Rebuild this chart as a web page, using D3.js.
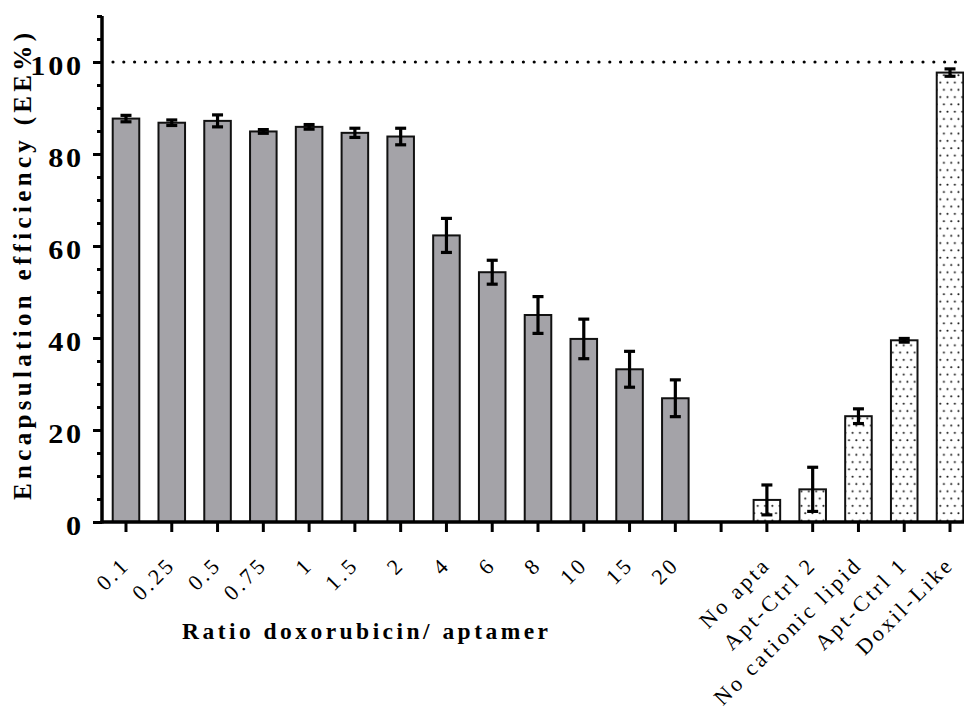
<!DOCTYPE html>
<html>
<head>
<meta charset="utf-8">
<script src="https://cdn.jsdelivr.net/npm/d3@7"></script>
<style>
  html, body { margin: 0; padding: 0; background: #fff; }
  svg { display: block; }
  svg text { font-family: "Liberation Serif", "Times New Roman", serif; fill: #000; }
</style>
</head>
<body>
<svg id="chart" width="964" height="715"></svg>
<script>
// ---- data ----
const ratioLabels   = ["0.1", "0.25", "0.5", "0.75", "1", "1.5", "2", "4", "6", "8", "10", "15", "20"];
const ratioValues   = [87.7, 86.8, 87.2, 84.9, 85.9, 84.6, 83.8, 62.3, 54.3, 45.0, 39.8, 33.2, 26.9];
const ratioErrors   = [0.7, 0.6, 1.3, 0.4, 0.5, 1.0, 1.8, 3.7, 2.6, 4.0, 4.3, 3.9, 4.0];
const gapLabel      = " ";
const controlLabels = ["No apta", "Apt-Ctrl 2", "No cationic lipid", "Apt-Ctrl 1", "Doxil-Like"];
const controlValues = [4.8, 7.1, 23.0, 39.5, 97.7];
const controlErrors = [3.25, 4.8, 1.6, 0.4, 0.8];
const yMajorTicks   = [0, 20, 40, 60, 80, 100];
const referenceLine = 100;
const yTitle = "Encapsulation efficiency (EE%)";
const xTitle = "Ratio doxorubicin/ aptamer";

// ---- build table ----
const rows = [];
ratioLabels.forEach((c, i) => rows.push({cat: c, v: ratioValues[i], e: ratioErrors[i], kind: "ratio"}));
controlLabels.forEach((c, i) => rows.push({cat: c, v: controlValues[i], e: controlErrors[i], kind: "control"}));
const domain = [...ratioLabels, gapLabel, ...controlLabels];

const svg = d3.select("#chart");
const FONT = '"Liberation Serif", "Times New Roman", serif';

// defs: dotted pattern
const defs = svg.append("defs");
const pat = defs.append("pattern")
  .attr("id", "dots").attr("patternUnits", "userSpaceOnUse")
  .attr("width", 7.3).attr("height", 14.6);
pat.append("rect").attr("width", 7.3).attr("height", 14.6).attr("fill", "#fff");
pat.append("circle").attr("cx", 2.2).attr("cy", 2.2).attr("r", 1).attr("fill", "#111");
pat.append("circle").attr("cx", 5.85).attr("cy", 9.5).attr("r", 1).attr("fill", "#111");

// scales
const x = d3.scaleBand().domain(domain).range([103.1, 972.9]).paddingInner(0.42).paddingOuter(0.21);
const y = d3.scaleLinear().domain([0, 110]).range([522, 16]);

// bars
svg.append("g").selectAll("rect").data(rows).join("rect")
  .attr("x", d => x(d.cat))
  .attr("y", d => y(d.v))
  .attr("width", x.bandwidth())
  .attr("height", d => y(0) - y(d.v))
  .attr("fill", d => d.kind === "ratio" ? "#a4a3a8" : "url(#dots)")
  .attr("stroke", "#111")
  .attr("stroke-width", 2);

// reference dotted line
svg.append("line")
  .attr("x1", 113).attr("x2", 964)
  .attr("y1", y(referenceLine)).attr("y2", y(referenceLine))
  .attr("stroke", "#000").attr("stroke-width", 3.2)
  .attr("stroke-linecap", "round").attr("stroke-dasharray", "0 10.8");

// error bars
const eb = svg.append("g").attr("stroke", "#000").attr("stroke-width", 3.2);
rows.forEach(d => {
  const cx = x(d.cat) + x.bandwidth() / 2;
  eb.append("line").attr("x1", cx).attr("x2", cx).attr("y1", y(d.v + d.e)).attr("y2", y(d.v - d.e));
  eb.append("line").attr("x1", cx - 5.5).attr("x2", cx + 5.5).attr("y1", y(d.v + d.e)).attr("y2", y(d.v + d.e));
  eb.append("line").attr("x1", cx - 5.5).attr("x2", cx + 5.5).attr("y1", y(d.v - d.e)).attr("y2", y(d.v - d.e));
});

// y axis: minor ticks
const yMinor = d3.range(0, 111, 5);
const gMinor = svg.append("g").attr("transform", "translate(102,0)")
  .call(d3.axisLeft(y).tickValues(yMinor).tickSize(5).tickFormat(""));
gMinor.select(".domain").remove();
gMinor.selectAll("line").attr("stroke", "#000").attr("stroke-width", 3);

// y axis: major ticks + labels
const gY = svg.append("g").attr("transform", "translate(102,0)")
  .call(d3.axisLeft(y).tickValues(yMajorTicks).tickSize(9).tickSizeOuter(0).tickFormat(d3.format("d")));
gY.attr("font-family", null);
gY.select(".domain").attr("stroke", "#000").attr("stroke-width", 3.5).attr("d", `M0,${y(110)}V${y(0) + 1.5}`);
gY.selectAll(".tick line").attr("stroke", "#000").attr("stroke-width", 3);
gY.selectAll(".tick text")
  .attr("x", 0).attr("dy", null).attr("y", 0)
  .attr("text-anchor", "end")
  .attr("transform", "translate(-18,12) scale(1.12,1)")
  .style("font-family", FONT).style("font-size", "27px").style("font-weight", "bold")
  .style("letter-spacing", "2.5px");

// x axis
const gX = svg.append("g").attr("transform", `translate(0,${y(0)})`)
  .call(d3.axisBottom(x).tickSize(10).tickSizeOuter(0));
gX.attr("font-family", null);
gX.select(".domain").remove();
gX.selectAll(".tick line").attr("stroke", "#000").attr("stroke-width", 3);
gX.selectAll(".tick text")
  .style("font-family", FONT).style("font-size", "22px")
  .style("letter-spacing", "3px")
  .attr("text-anchor", "end")
  .attr("dy", null).attr("y", null)
  .attr("transform", "translate(5,44) rotate(-45)");
svg.append("line").attr("x1", 100.5).attr("x2", 964).attr("y1", y(0)).attr("y2", y(0))
  .attr("stroke", "#000").attr("stroke-width", 3.5);

// titles
svg.append("text")
  .attr("x", 182).attr("y", 639)
  .style("font-family", FONT).style("font-size", "23.5px").style("font-weight", "bold")
  .attr("textLength", 366).attr("lengthAdjust", "spacing")
  .text(xTitle);

svg.append("text")
  .attr("transform", "translate(31,500) rotate(-90)")
  .style("font-family", FONT).style("font-size", "25px").style("font-weight", "bold")
  .attr("textLength", 467).attr("lengthAdjust", "spacing")
  .text(yTitle);
</script>
</body>
</html>
